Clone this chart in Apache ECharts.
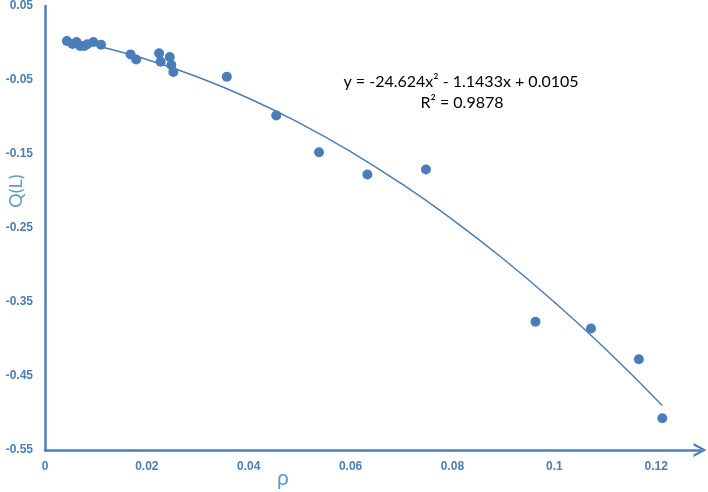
<!DOCTYPE html>
<html>
<head>
<meta charset="utf-8">
<script src="https://cdn.jsdelivr.net/npm/echarts@6/dist/echarts.min.js"></script>
<style>
  html, body { margin: 0; padding: 0; background: #fff; }
  #main { width: 708px; height: 492px; }
</style>
</head>
<body>
<div id="main"></div>
<script>
// 观测点 (rho, Q(L))
var rhoValues = [0.0043, 0.0054, 0.0062, 0.0069, 0.0077, 0.0083, 0.0095, 0.0110,
                 0.0168, 0.0179, 0.0224, 0.0227, 0.0245, 0.0248, 0.0252,
                 0.0357, 0.0454, 0.0538, 0.0633, 0.0748,
                 0.0963, 0.1072, 0.1166, 0.1212];
var qValues = [0.0026, -0.0014, 0.0013, -0.0041, -0.0041, -0.0018, 0.0013, -0.0023,
               -0.0154, -0.0222, -0.0140, -0.0253, -0.0190, -0.0298, -0.0393,
               -0.0457, -0.0979, -0.1476, -0.1778, -0.1710,
               -0.3767, -0.3857, -0.4273, -0.5071];

// 趋势线 (读自图中曲线)
var trendX = [0.0043, 0.01, 0.02, 0.03, 0.04, 0.05, 0.06, 0.07, 0.08, 0.09, 0.10, 0.11, 0.1212];
var trendY = [0.0051, -0.0034, -0.0222, -0.0460, -0.0746, -0.1082, -0.1467, -0.1902,
              -0.2386, -0.2919, -0.3501, -0.4132, -0.4898];

var equationText = 'y = -24.624x² - 1.1433x + 0.0105';
var r2Text = 'R² = 0.9878';

var blue = '#4a7ebb';
var labelFont = '"Liberation Sans", Arial, sans-serif';
var textFont = 'Lato, "Open Sans", sans-serif';

function zip(a, b) {
    var d = [];
    for (var i = 0; i < a.length; i++) {
        d.push([a[i], b[i]]);
    }
    return d;
}

var myChart = echarts.init(document.getElementById('main'));

var option = {
    animation: false,
    grid: { left: 45, right: 8, top: 6, bottom: 42 },
    xAxis: {
        type: 'value',
        min: 0,
        max: 0.1286,
        interval: 0.02,
        splitLine: { show: false },
        axisTick: { show: false },
        axisLine: {
            onZero: false,
            symbol: ['none', 'path://M0 13 L7 0 L14 13 L11.6 13 L7 4.5 L2.4 13 Z'],
            symbolSize: [14, 13],
            lineStyle: { color: blue, width: 2.5 }
        },
        axisLabel: {
            showMaxLabel: false,
            margin: 11,
            color: blue,
            fontWeight: 'bold',
            fontSize: 12,
            fontFamily: labelFont
        }
    },
    yAxis: {
        type: 'value',
        min: -0.55,
        max: 0.05,
        interval: 0.1,
        splitLine: { show: false },
        axisTick: { show: false },
        axisLine: {
            show: true,
            onZero: false,
            lineStyle: { color: blue, width: 2.5 }
        },
        axisLabel: {
            margin: 12,
            color: blue,
            fontWeight: 'bold',
            fontSize: 12,
            fontFamily: labelFont,
            formatter: function (v) {
                return (Math.round(v * 100) / 100).toString();
            }
        }
    },
    series: [
        {
            type: 'line',
            data: zip(trendX, trendY),
            smooth: true,
            showSymbol: false,
            lineStyle: { color: blue, width: 1.5 },
            z: 2
        },
        {
            type: 'scatter',
            data: zip(rhoValues, qValues),
            symbolSize: 10,
            itemStyle: { color: blue, opacity: 1 },
            z: 3
        }
    ],
    graphic: [
        {
            type: 'text',
            x: 461, y: 82,
            style: {
                text: equationText,
                align: 'center', verticalAlign: 'middle',
                fill: '#000', fontSize: 16, fontFamily: textFont
            }
        },
        {
            type: 'text',
            x: 462, y: 103,
            style: {
                text: r2Text,
                align: 'center', verticalAlign: 'middle',
                fill: '#000', fontSize: 16, fontFamily: textFont
            }
        },
        {
            type: 'text',
            x: 16, y: 191,
            rotation: Math.PI / 2,
            style: {
                text: 'Q(L)',
                align: 'center', verticalAlign: 'middle',
                fill: '#5b9bd5', fontSize: 18, fontFamily: textFont
            }
        },
        {
            type: 'text',
            x: 283, y: 478,
            style: {
                text: 'ρ',
                align: 'center', verticalAlign: 'middle',
                fill: '#5b9bd5', fontSize: 21, fontFamily: textFont
            }
        }
    ]
};

myChart.setOption(option);
</script>
</body>
</html>
